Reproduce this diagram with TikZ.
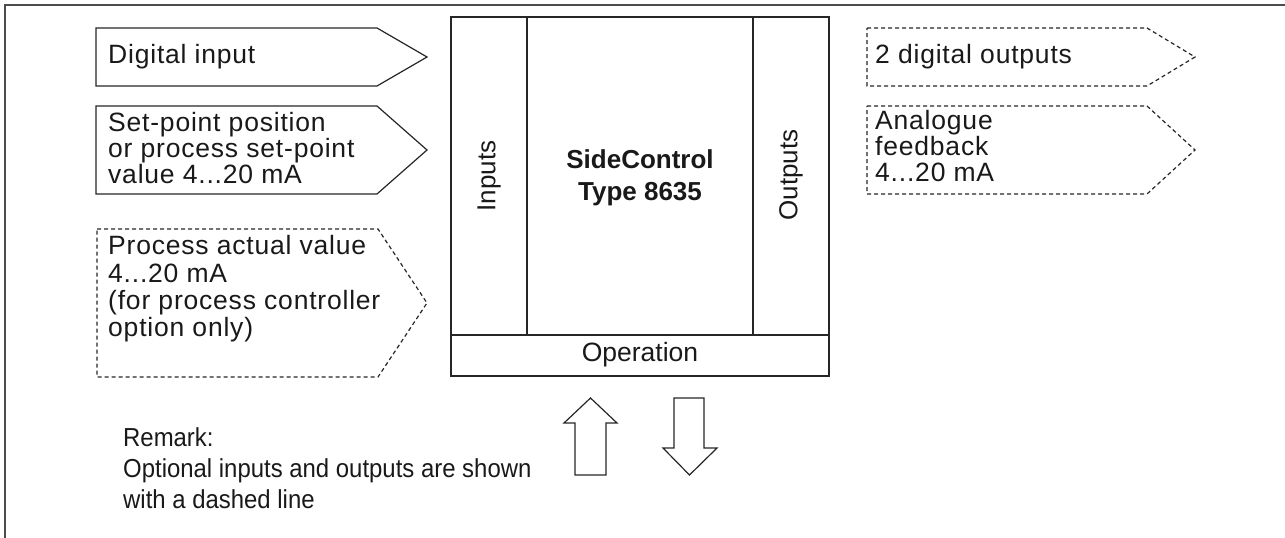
\documentclass[tikz,border=0pt]{standalone}
\usepackage{fontspec}
\setmainfont{Liberation Sans}
\newfontfamily\remfont[FakeStretch=0.92]{Liberation Sans}
\newfontfamily\boxfont[LetterSpace=3]{Liberation Sans}
\begin{document}
\begin{tikzpicture}[x=1pt,y=-1pt,
  outl/.style={draw=black!85, line width=1.2pt, line join=miter},
  opt/.style={outl, dash pattern=on 4pt off 3pt},
  lbl/.style={inner sep=0pt, anchor=west, align=left, text=black!90},
  sz/.style={font=\boxfont\fontsize{26.5}{#1}\selectfont},
  bold/.style={inner sep=0pt, align=center, text=black!90, font=\bfseries\fontsize{26}{32}\selectfont}]
\useasboundingbox (0,0) rectangle (1285,538);
% frame
\draw[line width=1.8pt, black!70] (5,538) -- (5,5) -- (1285,5);
% inputs
\draw[outl] (96,28) -- (377,28) -- (427,57) -- (377,86) -- (96,86) -- cycle;
\node[lbl, sz=27] (din) at (108,57) {Digital input};
\draw[outl] (96,106) -- (377,106) -- (427,150) -- (377,194) -- (96,194) -- cycle;
\node[lbl, sz=26] (setp) at (108,148) {Set-point position\\or process set-point\\value 4...20 mA};
\draw[opt] (97,229) -- (378,229) -- (427,303) -- (378,377) -- (97,377) -- cycle;
\node[lbl, sz=27.3] (pav) at (108,289) {Process actual value\\4...20 mA\\(for process controller\\option only)};
% outputs
\draw[opt] (867,28) -- (1147,28) -- (1195,57) -- (1147,86) -- (867,86) -- cycle;
\node[lbl, sz=27] (dout) at (875,57) {2 digital outputs};
\draw[opt] (867,106) -- (1147,106) -- (1195,150) -- (1147,194) -- (867,194) -- cycle;
\node[lbl, sz=26] (afb) at (875,146) {Analogue\\feedback\\4...20 mA};
% main box
\draw[outl] (451,17) rectangle (829,376);
\draw[outl] (527,17) -- (527,335);
\draw[outl] (753,17) -- (753,335);
\draw[outl] (451,335) -- (829,335);
\node[inner sep=0pt, rotate=90, text=black!90, font=\fontsize{26}{27}\selectfont] (inp) at (489,176) {Inputs};
\node[inner sep=0pt, rotate=90, text=black!90, font=\fontsize{26}{27}\selectfont] (outp) at (791,175) {Outputs};
\node[bold] (sc) at (640,178) {SideControl\\Type 8635};
\node[inner sep=0pt, text=black!90, font=\fontsize{26.5}{27}\selectfont] (op) at (640,355) {Operation};
% operation arrows
\draw[outl] (575,475) -- (575,423) -- (564,423) -- (590.5,398) -- (617,423) -- (606,423) -- (606,475) -- cycle;
\draw[outl] (674,398) -- (704,398) -- (704,448) -- (717,448) -- (689.5,475) -- (663,448) -- (674,448) -- cycle;
% remark
\node[inner sep=0pt, anchor=north west, align=left, text=black!90, font=\remfont\fontsize{26}{31}\selectfont] (rem) at (123,427) {Remark:\\Optional inputs and outputs are shown\\with a dashed line};
\end{tikzpicture}
\end{document}
